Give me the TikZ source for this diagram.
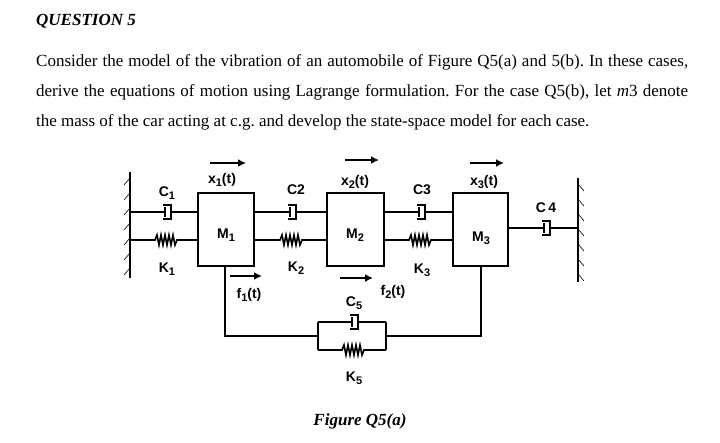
\documentclass[tikz,border=0pt]{standalone}
\usepackage{fontspec}
\usetikzlibrary{arrows.meta}
\setmainfont{Liberation Serif}
\newfontfamily\lab{Liberation Sans}
\newcommand{\sbs}[1]{\raisebox{-3pt}{\fontsize{11}{11}\selectfont #1}}
\begin{document}
\frenchspacing
\begin{tikzpicture}[x=1pt,y=-1pt,
  ln/.style={line width=2pt},
  ar/.style={line width=2pt,-{Latex[length=8pt,width=8pt]}},
  lb/.style={font=\lab\bfseries\fontsize{14}{14}\selectfont,inner sep=0pt},
  txt/.style={font=\fontsize{17}{17}\selectfont,anchor=base west,inner sep=0pt},
  damper/.pic={\draw[line width=1.5pt] (-3,-7)--(5,-7)--(5,7)--(-3,7);
               \draw[line width=2.2pt] (-1,-5)--(-1,5);},
  spring/.pic={\draw[line width=1.6pt] (-13,0)--(-11,0)--(-9,-5)--(-7,5)--(-5,-5)--(-3,5)--(-1,-5)--(1,5)--(3,-5)--(5,5)--(7,-5)--(9,5)--(11,0)--(13,0);}]
\useasboundingbox (0,0) rectangle (720,442);
\node[txt,font=\bfseries\itshape\fontsize{17}{17}\selectfont] (q) at (36,25) {QUESTION 5};
\node[txt] (l1) at (36,66) {\makebox[652pt][s]{Consider the model of the vibration of an automobile of Figure Q5(a) and 5(b). In these cases,}};
\node[txt] (l2) at (36,96) {\makebox[652pt][s]{derive the equations of motion using Lagrange formulation. For the case Q5(b), let \textit{m}3 denote}};
\node[txt] (l3) at (36,126) {the mass of the car acting at c.g. and develop the state-space model for each case.};
% walls
\draw[ln] (130,172)--(130,278);
\foreach \y in {178,193,...,268} \draw[line width=0.6pt] (130,\y)--(124,\y+7);
\draw[ln] (578,178)--(578,282);
\foreach \y in {184,199,...,274} \draw[line width=0.6pt] (578,\y)--(584,\y+7);
% masses
\node[draw,ln,minimum width=56pt,minimum height=73pt,inner sep=0pt] (M1) at (226,229.5) {};
\node[draw,ln,minimum width=57pt,minimum height=73pt,inner sep=0pt] (M2) at (355.5,229.5) {};
\node[draw,ln,minimum width=55pt,minimum height=73pt,inner sep=0pt] (M3) at (480.5,229.5) {};
\node[lb] at (226,235) {M\sbs{1}};
\node[lb] at (355,235) {M\sbs{2}};
\node[lb] at (481,238) {M\sbs{3}};
% dampers and springs
\foreach \xa/\xb/\xc in {130/166/198, 254/291/327, 384/420/453}{
  \draw[ln] (\xa,212)--(\xc,212);
  \fill[white] (\xb-2,205) rectangle (\xb+4,219);
  \pic at (\xb,212) {damper};
  \draw[ln] (\xa,240)--(\xb-13,240) (\xb+13,240)--(\xc,240);
  \pic at (\xb,240) {spring};}
\draw[ln] (508,228)--(578,228);
\fill[white] (543,221) rectangle (549,235);
\pic at (545,228) {damper};
% labels
\node[lb] at (167,193) {C\sbs{1}};
\node[lb] at (167,269) {K\sbs{1}};
\node[lb] at (296,190) {C2};
\node[lb] at (296,268) {K\sbs{2}};
\node[lb] at (422,190) {C3};
\node[lb] at (422,270) {K\sbs{3}};
\node[lb] at (546,208) {C\,4};
\node[lb] (x1) at (222,180) {x\sbs{1}(t)};
\node[lb] (x2) at (355,182) {x\sbs{2}(t)};
\node[lb] (x3) at (484,182) {x\sbs{3}(t)};
\draw[ar] (210,163)--(246,163);
\draw[ar] (345,160)--(379,160);
\draw[ar] (470,163)--(504,163);
\draw[ar] (230,276)--(262,276);
\node[lb] (f1) at (249,295) {f\sbs{1}(t)};
\draw[ar] (340,278)--(373,278);
\node[lb] (f2) at (393,292) {f\sbs{2}(t)};
% C5 K5
\draw[ln] (225,266)--(225,336)--(318,336);
\draw[ln] (318,322)--(318,350);
\draw[ln] (386,322)--(386,350);
\draw[ln] (318,322)--(386,322);
\fill[white] (351,315) rectangle (357,329);
\pic at (353,322) {damper};
\draw[ln] (318,350)--(340,350) (366,350)--(386,350);
\pic at (353,350) {spring};
\draw[ln] (386,336)--(481,336)--(481,266);
\node[lb] at (354,303) {C\sbs{5}};
\node[lb] at (354,378) {K\sbs{5}};
\node[font=\bfseries\itshape\fontsize{17}{17}\selectfont,inner sep=0pt] (cap) at (360,421) {Figure Q5(a)};
\end{tikzpicture}
\end{document}
